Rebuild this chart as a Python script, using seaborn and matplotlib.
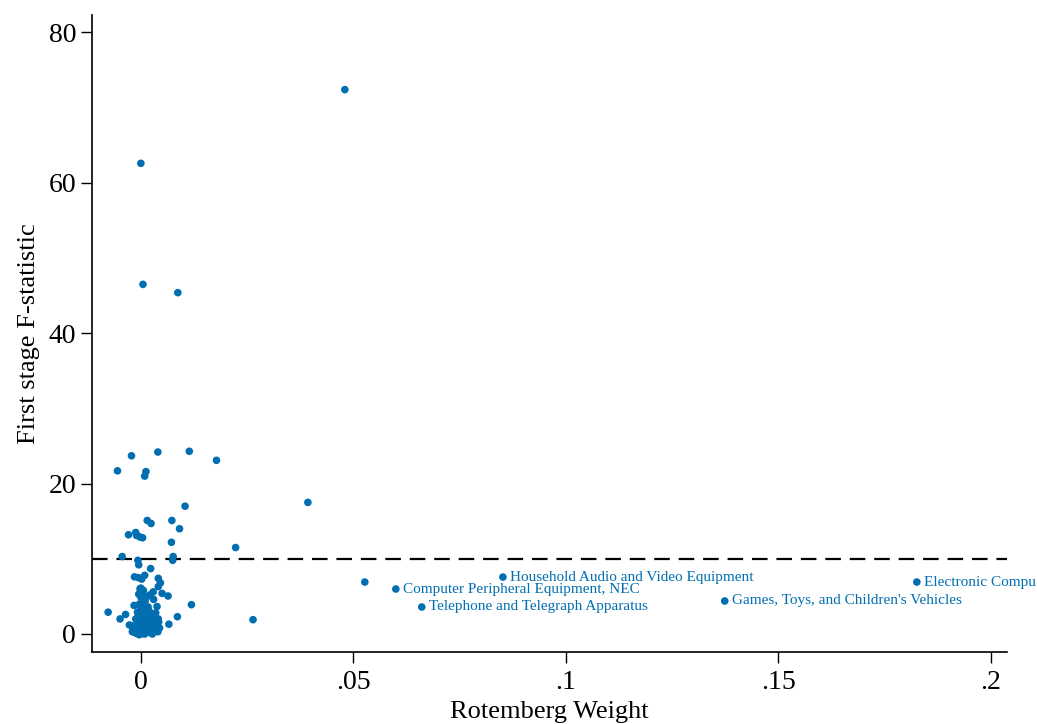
import numpy as np
import pandas as pd
import matplotlib
matplotlib.use("Agg")
import matplotlib.pyplot as plt
import seaborn as sns

# Rotemberg weights vs first stage F-statistic
labeled_names = [
    "Household Audio and Video Equipment",
    "Computer Peripheral Equipment, NEC",
    "Telephone and Telegraph Apparatus",
    "Games, Toys, and Children's Vehicles",
    "Electronic Compu",
]
labeled_alpha = [0.0852, 0.0600, 0.0661, 0.1374, 0.1826]
labeled_F = [7.57, 5.98, 3.59, 4.39, 6.91]

other_alpha = [
    0.0480, 0.0000, 0.0005, 0.0087, 0.0527, 0.0393, 0.0264,
    -0.0055, -0.0022, 0.0040, 0.0114, 0.0178, 0.0012, 0.0009, 0.0104,
    0.0015, 0.0024, 0.0073, 0.0091, -0.0029, -0.0012, -0.0010, -0.0002,
    0.0004, 0.0072, 0.0223, -0.0044, 0.0076, 0.0075, -0.0007, -0.0005,
    0.0023, -0.0015, -0.0006, 0.0002, 0.0009, 0.0041, 0.0046, 0.0041,
    0.0000, 0.0050, 0.0064, 0.0029, 0.0021, -0.0077, -0.0036, -0.0049,
    -0.0016, 0.0038, 0.0119, 0.0086, 0.0066, 0.0041, -0.0027,
    # dense cluster near zero
    0.0000, 0.0005, -0.0010, 0.0010, 0.0020, -0.0015, 0.0000, 0.0015,
    0.0030, -0.0020, 0.0025, -0.0005, 0.0008, 0.0018, 0.0035, 0.0040,
    -0.0022, 0.0003, 0.0012, -0.0008, 0.0020, 0.0005, -0.0003, 0.0010,
    0.0000, -0.0005, 0.0015, 0.0006, -0.0002, 0.0028, 0.0030, 0.0042,
    0.0008, -0.0012, 0.0022, 0.0035, 0.0001, -0.0004, 0.0013, 0.0026,
    -0.0018, 0.0032, 0.0007, 0.0017, -0.0009, 0.0002, 0.0011, 0.0024,
    0.0038, -0.0014, 0.0004, 0.0019, -0.0001, 0.0009, 0.0033, 0.0006,
    0.0016, -0.0006, 0.0027, 0.0001, 0.0012, -0.0011, 0.0021, 0.0044,
]
other_F = [
    72.4, 62.6, 46.5, 45.4, 6.91, 17.5, 1.9,
    21.7, 23.7, 24.2, 24.3, 23.1, 21.6, 21.0, 17.0,
    15.1, 14.7, 15.1, 14.0, 13.2, 13.5, 13.1, 12.9,
    12.8, 12.2, 11.5, 10.3, 10.3, 9.8, 9.8, 9.2,
    8.7, 7.6, 7.5, 7.3, 7.8, 7.4, 6.8, 6.3,
    6.1, 5.4, 5.05, 5.6, 5.2, 2.9, 2.6, 2.0,
    3.8, 3.65, 3.9, 2.3, 1.3, 2.0, 1.2,
    # dense cluster near zero
    0.2, 0.3, 0.4, 0.1, 0.5, 0.8, 1.0, 0.9,
    0.6, 0.3, 1.2, 1.5, 1.8, 1.4, 0.8, 0.3,
    1.1, 2.2, 2.6, 2.9, 3.0, 3.4, 4.0, 4.4,
    4.9, 5.3, 5.0, 5.8, 6.0, 2.1, 4.6, 1.6,
    0.6, 2.0, 0.2, 2.8, 0.0, -0.1, 0.4, 0.7,
    0.6, 1.9, 1.3, 3.6, 1.7, 2.7, 3.2, 0.9,
    0.4, 0.2, 0.9, 2.4, 3.7, 0.0, 1.1, 4.2,
    1.6, 2.4, 0.0, 5.4, 0.3, 0.1, 2.6, 0.8,
]

dot_color = "#006EB0"

df = pd.DataFrame({
    "alpha": other_alpha + labeled_alpha,
    "F": other_F + labeled_F,
})

sns.set_style("ticks")
plt.rcParams["font.family"] = ["Liberation Serif", "DejaVu Serif"]
plt.rcParams["text.color"] = "black"
plt.rcParams["axes.labelcolor"] = "black"
plt.rcParams["xtick.color"] = "black"
plt.rcParams["ytick.color"] = "black"
plt.rcParams["axes.edgecolor"] = "black"

fig = plt.figure(figsize=(10.37, 7.24), dpi=100)
ax = fig.add_axes([0.0887, 0.0994, 0.8823, 0.8796])

sns.scatterplot(data=df, x="alpha", y="F", ax=ax, color=dot_color,
                s=30, linewidth=0, edgecolor="none", zorder=3)

# weak-instrument threshold
ax.axhline(10, color="black", linestyle=(0, (7, 4)), linewidth=1.6, zorder=2)

for name, a, f in zip(labeled_names, labeled_alpha, labeled_F):
    ax.annotate(name, (a, f), xytext=(5, 0), textcoords="offset points",
                va="center", ha="left", fontsize=11, color=dot_color,
                annotation_clip=False)

ax.set_xlim(-0.0115, 0.2038)
ax.set_ylim(-2.4, 82.3)
ax.set_xticks([0, 0.05, 0.1, 0.15, 0.2])
ax.set_xticklabels(["0", ".05", ".1", ".15", ".2"])
ax.set_yticks([0, 20, 40, 60, 80])
ax.tick_params(axis="both", labelsize=20, length=8, width=1, direction="out")
ax.tick_params(axis="x", pad=5)
ax.set_xlabel("Rotemberg Weight", fontsize=19, labelpad=4)
ax.set_ylabel("First stage F-statistic", fontsize=19, labelpad=6)
sns.despine(ax=ax)
for side in ["left", "bottom"]:
    ax.spines[side].set_linewidth(1.2)

fig.savefig("out.png", dpi=100)
